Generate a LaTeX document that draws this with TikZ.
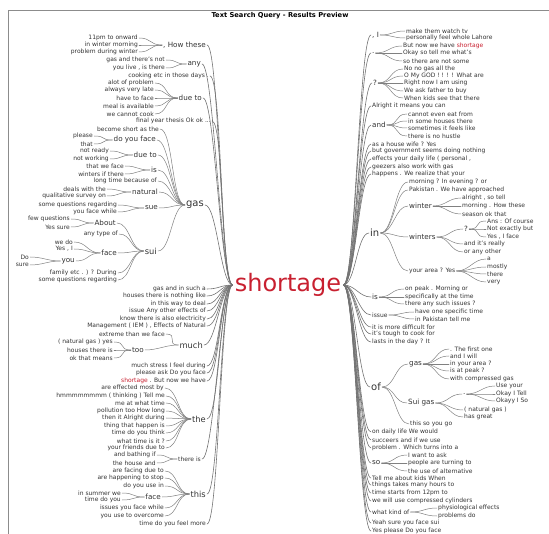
\documentclass[tikz,border=0pt]{standalone}
\usepackage{fontspec}
\setmainfont{DejaVu Sans}
\definecolor{shortred}{RGB}{200,32,48}
\begin{document}
\begin{tikzpicture}[x=1pt,y=-1pt,line join=round,line cap=round,
	leaf/.style={font=\fontsize{6}{6.5}\selectfont,text=black!80,inner sep=1pt},
	mid/.style={leaf,font=\fontsize{7.2}{7.5}\selectfont},
	big/.style={leaf,font=\fontsize{8.3}{8.5}\selectfont},
	hub/.style={leaf,font=\fontsize{10}{10}\selectfont},
	lside/.style={anchor=east},
	rside/.style={anchor=west},
	wire/.style={draw=black!50,line width=0.5pt},
	trunk/.style={draw=black!55,line width=0.6pt},
	twig/.style={to path={.. controls +(#1,0) and +(-#1,0) .. (\tikztotarget)}},
	twig/.default=13]
		\useasboundingbox (0,0) rectangle (549,534);
		\draw[black!45] (8,534)--(8,10)--(549,10);
		\node[font=\bfseries\fontsize{6.7}{7}\selectfont] (title) at (280,16) {Text Search Query - Results Preview};
		\node[font=\fontsize{24}{25}\selectfont,text=shortred,inner sep=2pt] (root) at (288,285) {shortage};
		% left half
		\node[leaf,lside] (h1) at (139,38) {11pm to onward};
		\node[leaf,lside] (h2) at (139,45) {in winter morning};
		\node[leaf,lside] (h3) at (139,52) {problem during winter};
		\node[mid,lside] (how) at (207,45) {, How these};
		\node[leaf,lside] (a1) at (166,60) {gas and there's not};
		\node[leaf,lside] (a2) at (166,68) {you live , is there};
		\node[mid,lside] (any) at (202,64) {any};
		\node[leaf,lside] (c1) at (210,76) {cooking etc in those days .};
		\node[leaf,lside] (d1) at (155,83) {alot of problem};
		\node[leaf,lside] (d2) at (155,90) {always very late};
		\node[leaf,lside] (d3) at (155,98) {have to face};
		\node[leaf,lside] (d4) at (155,106) {meal is available};
		\node[leaf,lside] (d5) at (155,114) {we cannot cook};
		\node[mid,lside] (dueto) at (203,98) {due to};
		\node[leaf,lside] (f1) at (212,121) {final year thesis Ok ok ...};
		\node[leaf,lside] (g1) at (160,129) {become short as the};
		\node[leaf,lside] (p1) at (94,136) {please};
		\node[leaf,lside] (p2) at (94,144) {that};
		\node[mid,lside] (doyou) at (157,140) {do you face};
		\node[leaf,lside] (n1) at (110,151) {not ready};
		\node[leaf,lside] (n2) at (110,159) {not working};
		\node[mid,lside] (dueb) at (158,155) {due to};
		\node[leaf,lside] (w1) at (125,166) {that we face};
		\node[leaf,lside] (w2) at (125,174) {winters if there};
		\node[mid,lside] (isw) at (158,170) {is};
		\node[leaf,lside] (g2) at (158,181) {long time because of};
		\node[leaf,lside] (q1) at (107,189) {deals with the};
		\node[leaf,lside] (q2) at (107,196) {qualitative survey on};
		\node[mid,lside] (natural) at (159,192) {natural};
		\node[leaf,lside] (s1) at (118,205) {some questions regarding};
		\node[leaf,lside] (s2) at (118,212) {you face while};
		\node[mid,lside] (sue) at (159,208) {sue};
		\node[hub,lside] (gas) at (205,205) {gas};
		\node[leaf,lside] (b1) at (71,219) {few questions};
		\node[leaf,lside] (b2) at (71,227) {Yes sure};
		\node[mid,lside] (about) at (117,223) {About};
		\node[leaf,lside] (u1) at (119,234) {any type of};
		\node[leaf,lside] (e1) at (74,242) {we do};
		\node[leaf,lside] (e2) at (74,249) {Yes , I};
		\node[leaf,lside] (o1) at (30,257) {Do};
		\node[leaf,lside] (o2) at (30,265) {sure};
		\node[mid,lside] (you) at (76,261) {you};
		\node[mid,lside] (face) at (118,253) {face};
		\node[leaf,lside] (u2) at (118,273) {family etc . ) ? During};
		\node[leaf,lside] (u3) at (118,280) {some questions regarding};
		\node[big,lside] (sui) at (158,251) {sui};
		\node[leaf,lside] (t1) at (207,289) {gas and in such a};
		\node[leaf,lside] (t2) at (207,296) {houses there is nothing like};
		\node[leaf,lside] (t3) at (207,304) {in this way to deal};
		\node[leaf,lside] (t4) at (207,311) {issue Any other effects of};
		\node[leaf,lside] (t5) at (207,319) {know there is also electricity};
		\node[leaf,lside] (t6) at (207,326) {Management ( IEM ) , Effects of Natural};
		\node[leaf,lside] (m1) at (166,334) {extreme than we face};
		\node[leaf,lside] (r1) at (114,342) {( natural gas ) yes};
		\node[leaf,lside] (r2) at (114,350) {houses there is};
		\node[leaf,lside] (r3) at (114,358) {ok that means};
		\node[mid,lside] (too) at (145,350) {too};
		\node[big,lside] (much) at (204,345) {much};
		\node[leaf,lside] (t7) at (207,366) {much stress I feel during};
		\node[leaf,lside] (t8) at (207,373) {please ask Do you face};
		\node[leaf,lside] (t9) at (207,381) {{\color{shortred}shortage} . But now we have};
		\node[leaf,lside] (th1) at (165,388) {are effected most by};
		\node[leaf,lside] (th2) at (166,396) {hmmmmmmmm ( thinking ) Tell me};
		\node[leaf,lside] (th3) at (166,403) {me at what time};
		\node[leaf,lside] (th4) at (166,411) {pollution too How long};
		\node[leaf,lside] (th5) at (166,418) {then it Alright during};
		\node[leaf,lside] (th6) at (166,426) {thing that happen is};
		\node[leaf,lside] (th7) at (166,433) {time do you think};
		\node[leaf,lside] (th8) at (166,441) {what time is it ?};
		\node[leaf,lside] (th9) at (166,448) {your friends due to};
		\node[big,lside] (thehub) at (207,419) {the};
		\node[leaf,lside] (ti1) at (157,455) {and bathing if};
		\node[leaf,lside] (ti2) at (157,463) {the house and};
		\node[leaf,lside] (thereis) at (202,459) {there is};
		\node[leaf,lside] (tb1) at (165,471) {are facing due to};
		\node[leaf,lside] (tb2) at (165,478) {are happening to stop};
		\node[leaf,lside] (tb3) at (165,486) {do you use in};
		\node[leaf,lside] (fc1) at (122,493) {in summer we};
		\node[leaf,lside] (fc2) at (122,500) {time do you};
		\node[mid,lside] (facet) at (162,497) {face};
		\node[leaf,lside] (tb4) at (165,508) {issues you face while};
		\node[leaf,lside] (tb5) at (165,516) {you use to overcome};
		\node[big,lside] (thishub) at (207,494) {this};
		\node[leaf,lside] (t10) at (207,524) {time do you feel more};
		% right half
		\node[mid,rside] (comma) at (371,35) {, I};
		\node[leaf,rside] (i1) at (405,31) {make them watch tv};
		\node[leaf,rside] (i2) at (405,38) {personally feel whole Lahore};
		\node[mid,rside] (dot) at (371,53) {.};
		\node[leaf,rside] (dt1) at (402,46) {But now we have {\color{shortred}shortage}};
		\node[leaf,rside] (dt2) at (402,53) {Okay so tell me what's};
		\node[leaf,rside] (dt3) at (402,61) {so there are not some};
		\node[mid,rside] (qhub) at (372,83) {?};
		\node[leaf,rside] (qm1) at (403,69) {No no gas all the};
		\node[leaf,rside] (qm2) at (403,76) {O My GOD ! ! ! ! What are};
		\node[leaf,rside] (qm3) at (403,83) {Right now I am using};
		\node[leaf,rside] (qm4) at (403,91) {We ask father to buy};
		\node[leaf,rside] (qm5) at (403,98) {When kids see that there};
		\node[leaf,rside] (ra1) at (371,106) {Alright it means you can};
		\node[mid,rside] (andhub) at (371,125) {and};
		\node[leaf,rside] (nd1) at (407,114) {cannot even eat from};
		\node[leaf,rside] (nd2) at (407,121) {in some houses there};
		\node[leaf,rside] (nd3) at (407,128) {sometimes it feels like};
		\node[leaf,rside] (nd4) at (407,136) {there is no hustle};
		\node[leaf,rside] (rb1) at (371,144) {as a house wife ? Yes};
		\node[leaf,rside] (rb2) at (371,151) {but government seems doing nothing};
		\node[leaf,rside] (rb3) at (371,159) {effects your daily life ( personal ,};
		\node[leaf,rside] (rb4) at (371,167) {geezers also work with gas};
		\node[leaf,rside] (rb5) at (371,174) {happens . We realize that your};
		\node[hub,rside] (inhub) at (369,233) {in};
		\node[leaf,rside] (in1) at (408,182) {morning ? In evening ? or};
		\node[leaf,rside] (in2) at (408,190) {Pakistan . We have approached};
		\node[mid,rside] (winter) at (408,206) {winter};
		\node[leaf,rside] (wt1) at (461,198) {alright , so tell};
		\node[leaf,rside] (wt2) at (461,206) {morning . How these};
		\node[leaf,rside] (wt3) at (461,214) {season ok that};
		\node[mid,rside] (winters) at (408,237) {winters};
		\node[mid,rside] (wq) at (463,229) {?};
		\node[leaf,rside] (wq1) at (486,221) {Ans : Of course};
		\node[leaf,rside] (wq2) at (486,229) {Not exactly but};
		\node[leaf,rside] (wq3) at (486,237) {Yes , I face};
		\node[leaf,rside] (ws1) at (463,244) {and it's really};
		\node[leaf,rside] (ws2) at (463,252) {or any other};
		\node[leaf,rside] (area) at (408,271) {your area ? Yes};
		\node[leaf,rside] (ar1) at (486,259) {a};
		\node[leaf,rside] (ar2) at (486,267) {mostly};
		\node[leaf,rside] (ar3) at (486,274) {there};
		\node[leaf,rside] (ar4) at (486,282) {very};
		\node[mid,rside] (ishub) at (371,297) {is};
		\node[leaf,rside] (is1) at (404,289) {on peak . Morning or};
		\node[leaf,rside] (is2) at (404,297) {specifically at the time};
		\node[leaf,rside] (is3) at (404,304) {there any such issues ?};
		\node[leaf,rside] (issue) at (371,315) {issue};
		\node[leaf,rside] (iu1) at (414,312) {have one specific time};
		\node[leaf,rside] (iu2) at (414,319) {in Pakistan tell me};
		\node[leaf,rside] (rc1) at (371,327) {it is more difficult for};
		\node[leaf,rside] (rc2) at (371,334) {it's tough to cook for};
		\node[leaf,rside] (rc3) at (371,342) {lasts in the day ? It};
		\node[hub,rside] (ofhub) at (370,387) {of};
		\node[mid,rside] (gasr) at (408,364) {gas};
		\node[leaf,rside] (gr1) at (449,349) {. The first one};
		\node[leaf,rside] (gr2) at (449,356) {and I will};
		\node[leaf,rside] (gr3) at (449,364) {in your area ?};
		\node[leaf,rside] (gr4) at (449,371) {is at peak ?};
		\node[leaf,rside] (gr5) at (449,379) {with compressed gas};
		\node[mid,rside] (suigas) at (407,403) {Sui gas};
		\node[mid,rside] (sgd) at (462,394) {.};
		\node[leaf,rside] (sd1) at (495,386) {Use your};
		\node[leaf,rside] (sd2) at (495,394) {Okay I Tell};
		\node[leaf,rside] (sd3) at (495,401) {Okayy I So};
		\node[leaf,rside] (sg1) at (463,410) {( natural gas )};
		\node[leaf,rside] (sg2) at (463,417) {has great};
		\node[leaf,rside] (of1) at (409,424) {this so you go};
		\node[leaf,rside] (rd1) at (371,432) {on daily life We would};
		\node[leaf,rside] (rd2) at (371,440) {succeers and if we use};
		\node[leaf,rside] (rd3) at (371,448) {problem . Which turns into a};
		\node[mid,rside] (sohub) at (371,463) {so};
		\node[leaf,rside] (so1) at (407,455) {I want to ask};
		\node[leaf,rside] (so2) at (407,463) {people are turning to};
		\node[leaf,rside] (so3) at (407,471) {the use of alternative};
		\node[leaf,rside] (re1) at (371,478) {Tell me about kids When};
		\node[leaf,rside] (re2) at (371,485) {things takes many hours to};
		\node[leaf,rside] (re3) at (371,493) {time starts from 12pm to};
		\node[leaf,rside] (re4) at (371,501) {we will use compressed cylinders};
		\node[leaf,rside] (whatkind) at (371,512) {what kind of};
		\node[leaf,rside] (wk1) at (437,508) {physiological effects};
		\node[leaf,rside] (wk2) at (437,516) {problems do};
		\node[leaf,rside] (rf1) at (371,523) {Yeah sure you face sui};
		\node[leaf,rside] (rf2) at (371,531) {Yes please Do you face};
		% branches
		\foreach \c/\p in {h1/how,h2/how,h3/how,a1/any,a2/any,
			d1/dueto,d2/dueto,d3/dueto,d4/dueto,d5/dueto,
			g1/gas,doyou/gas,dueb/gas,isw/gas,g2/gas,natural/gas,sue/gas,sui/gas,
			p1/doyou,p2/doyou,n1/dueb,n2/dueb,w1/isw,w2/isw,q1/natural,q2/natural,s1/sue,s2/sue,
			about/sui,u1/sui,face/sui,u2/sui,u3/sui,b1/about,b2/about,
			e1/face,e2/face,you/face,o1/you,o2/you,
			m1/much,too/much,r1/too,r2/too,r3/too,
			th1/thehub,th2/thehub,th3/thehub,th4/thehub,th5/thehub,th6/thehub,th7/thehub,th8/thehub,th9/thehub,
			ti1/thereis,ti2/thereis,
			tb1/thishub,tb2/thishub,tb3/thishub,facet/thishub,tb4/thishub,tb5/thishub,fc1/facet,fc2/facet}
			\draw[wire] (\c.east) to[twig] (\p.west);
		\foreach \p/\c in {comma/i1,comma/i2,dot/dt1,dot/dt2,dot/dt3,
			qhub/qm1,qhub/qm2,qhub/qm3,qhub/qm4,qhub/qm5,
			andhub/nd1,andhub/nd2,andhub/nd3,andhub/nd4,
			inhub/in1,inhub/in2,inhub/winter,inhub/winters,inhub/area,
			winter/wt1,winter/wt2,winter/wt3,winters/wq,winters/ws1,winters/ws2,
			wq/wq1,wq/wq2,wq/wq3,area/ar1,area/ar2,area/ar3,area/ar4,
			ishub/is1,ishub/is2,ishub/is3,issue/iu1,issue/iu2,
			ofhub/gasr,ofhub/suigas,ofhub/of1,
			gasr/gr1,gasr/gr2,gasr/gr3,gasr/gr4,gasr/gr5,
			suigas/sgd,suigas/sg1,suigas/sg2,sgd/sd1,sgd/sd2,sgd/sd3,
			sohub/so1,sohub/so2,sohub/so3,whatkind/wk1,whatkind/wk2}
			\draw[wire] (\p.east) to[twig] (\c.west);
		\foreach \c in {how,any,c1,dueto,f1,gas,t1,t2,t3,t4,t5,t6,much,t7,t8,t9,thehub,thereis,thishub,t10}
			\draw[trunk] (\c.east) to[twig=12] (root.west);
		\foreach \c in {comma,dot,qhub,ra1,andhub,rb1,rb2,rb3,rb4,rb5,inhub,ishub,issue,rc1,rc2,rc3,
			ofhub,rd1,rd2,rd3,sohub,re1,re2,re3,re4,whatkind,rf1,rf2}
			\draw[trunk] (root.east) to[twig=12] (\c.west);
		\end{tikzpicture}
\end{document}
